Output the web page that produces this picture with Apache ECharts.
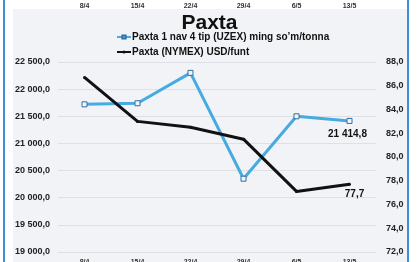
<!DOCTYPE html>
<html>
<head>
<meta charset="utf-8">
<script src="https://cdn.jsdelivr.net/npm/echarts@6/dist/echarts.min.js"></script>
<style>
  html, body { margin: 0; padding: 0; background: #ffffff; }
  #main { width: 419px; height: 262px; }
</style>
</head>
<body>
<div id="main"></div>
<script>
// Paxta narxlari
var dates = ['8/4', '15/4', '22/4', '29/4', '6/5', '13/5'];
var uzex = [21720, 21740, 22300, 20350, 21500, 21414.8];   // ming so'm/tonna
var nymex = [86.7, 83.0, 82.5, 81.5, 77.1, 77.7];          // USD/funt
var leftTicks = { min: 19000, max: 22500, step: 500 };
var rightTicks = { min: 72, max: 88, step: 2 };

var font = 'Liberation Sans';

// 21414.8 -> "21 414,8"
function fmt(v) {
  var s = Number(v).toFixed(1).split('.');
  var whole = s[0].replace(/\B(?=(\d{3})+(?!\d))/g, ' ');
  return whole + ',' + s[1];
}

var chart = echarts.init(document.getElementById('main'));

var option = {
  backgroundColor: '#ffffff',
  textStyle: { fontFamily: font },
  graphic: [
    { type: 'rect', left: 13, top: 9, shape: { width: 394, height: 253 }, style: { fill: '#f1f3f6' }, z: -10 },
    { type: 'rect', left: 3, top: 0, shape: { width: 2, height: 262 }, style: { fill: '#3b8fd8' }, z: -5 },
    { type: 'rect', left: 407, top: 0, shape: { width: 2, height: 262 }, style: { fill: '#3b8fd8' }, z: -5 }
  ],
  title: {
    text: 'Paxta',
    left: 'center',
    top: 8,
    textStyle: { fontSize: 21, fontWeight: 'bold', color: '#111', fontFamily: font }
  },
  legend: {
    orient: 'vertical',
    left: 111,
    top: 27,
    itemGap: 5,
    itemWidth: 14,
    itemHeight: 4,
    textStyle: { fontSize: 10, fontWeight: 'bold', color: '#111', fontFamily: font, padding: [0, 0, 0, -4] },
    data: ['Paxta 1 nav 4 tip (UZEX) ming so\u2019m/tonna', 'Paxta (NYMEX) USD/funt']
  },
  grid: [
    { left: 58, right: 43, top: 62, bottom: 10, outerBoundsMode: 'none', containLabel: false },
    { left: 58, right: 43, top: 0, height: 1, outerBoundsMode: 'none', containLabel: false }
  ],
  xAxis: [
    {
      type: 'category',
      gridIndex: 0,
      data: dates,
      axisLine: { show: false },
      axisTick: { show: false },
      axisLabel: { fontSize: 7, fontWeight: 'bold', color: '#333', margin: 7 }
    },
    {
      type: 'category',
      gridIndex: 1,
      data: dates,
      axisLine: { show: false },
      axisTick: { show: false },
      axisLabel: { fontSize: 7, fontWeight: 'bold', color: '#333', margin: 2 }
    }
  ],
  yAxis: [
    {
      type: 'value',
      gridIndex: 0,
      min: leftTicks.min,
      max: leftTicks.max,
      interval: leftTicks.step,
      axisLine: { show: false },
      axisTick: { show: false },
      splitLine: { lineStyle: { color: '#dde0e4', width: 1 } },
      axisLabel: { fontSize: 9, fontWeight: 'bold', color: '#222', margin: 8, formatter: fmt }
    },
    {
      type: 'value',
      gridIndex: 0,
      position: 'right',
      min: rightTicks.min,
      max: rightTicks.max,
      interval: rightTicks.step,
      axisLine: { show: false },
      axisTick: { show: false },
      splitLine: { show: false },
      axisLabel: { fontSize: 9, fontWeight: 'bold', color: '#222', margin: 10, formatter: fmt }
    },
    {
      type: 'value',
      gridIndex: 1,
      show: false
    }
  ],
  series: [
    {
      name: 'Paxta 1 nav 4 tip (UZEX) ming so\u2019m/tonna',
      type: 'line',
      xAxisIndex: 0,
      yAxisIndex: 0,
      data: uzex,
      symbol: 'rect',
      symbolSize: 5,
      itemStyle: { color: '#f4f6f8', borderColor: '#2e6fa8', borderWidth: 1 },
      lineStyle: { color: '#46abe0', width: 3 },
      label: {
        show: true,
        position: 'bottom',
        distance: 5,
        offset: [-2, 0],
        fontSize: 10,
        fontWeight: 'bold',
        color: '#111',
        formatter: function (p) { return p.dataIndex === uzex.length - 1 ? fmt(p.value) : ''; }
      },
      z: 3
    },
    {
      name: 'Paxta (NYMEX) USD/funt',
      type: 'line',
      xAxisIndex: 0,
      yAxisIndex: 1,
      data: nymex,
      symbol: 'circle',
      symbolSize: 3,
      itemStyle: { color: '#111' },
      lineStyle: { color: '#111', width: 3 },
      label: {
        show: true,
        position: 'bottom',
        distance: 3,
        offset: [5, 0],
        fontSize: 10,
        fontWeight: 'bold',
        color: '#111',
        formatter: function (p) { return p.dataIndex === nymex.length - 1 ? fmt(p.value) : ''; }
      },
      z: 4
    }
  ]
};

chart.setOption(option);
</script>
</body>
</html>
